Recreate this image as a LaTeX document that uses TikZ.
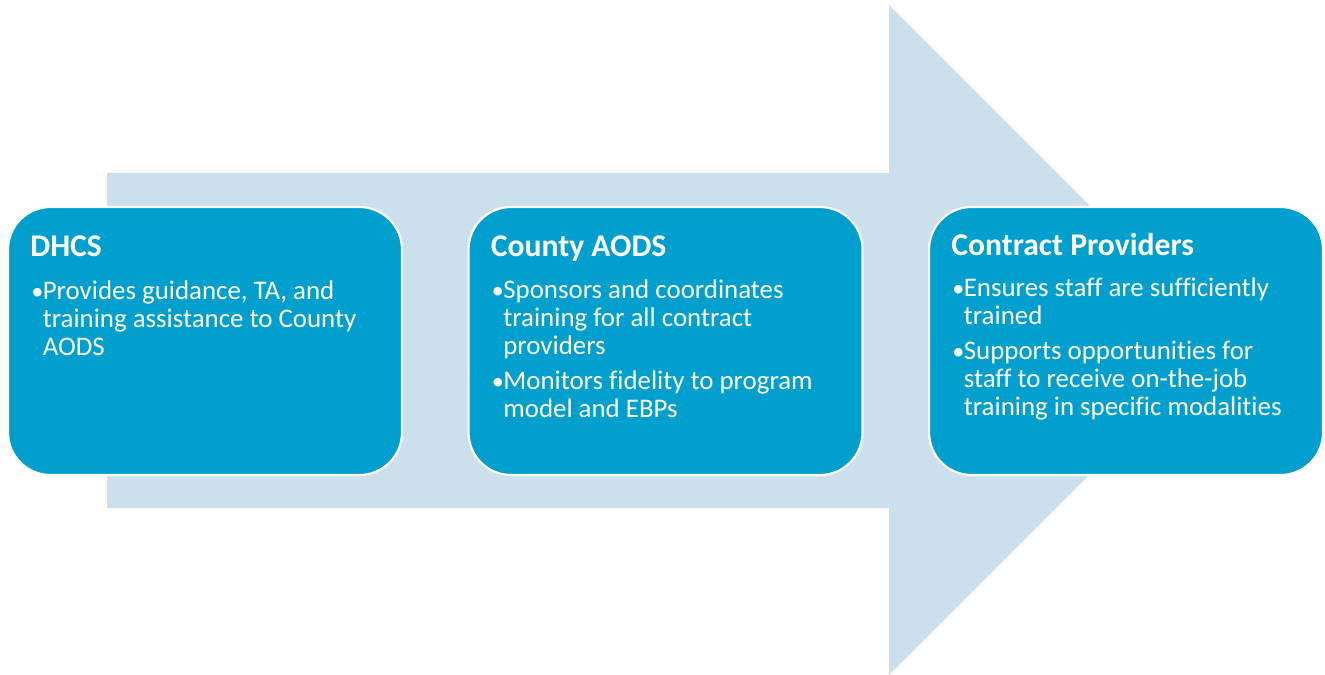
\documentclass[tikz,border=0pt]{standalone}
\usepackage{fontspec}
\usepackage{tikz}
\usetikzlibrary{positioning}

\setmainfont{Carlito}[Ligatures={NoCommon,TeX}]

\definecolor{stageblue}{RGB}{0,159,206}
\definecolor{arrowblue}{RGB}{204,223,236}

\newcommand{\titlefont}{\fontsize{18pt}{18pt}\selectfont\bfseries}
\newcommand{\bodyfont}{\fontsize{15.3pt}{15.9pt}\selectfont}
% one bullet item, lines broken by hand
\newcommand{\bitem}{\makebox[0.21cm][l]{\hspace{-0.02cm}\scalebox{0.9}{\textbullet}}}
\newcommand{\bcont}{\hspace*{0.21cm}}

\tikzset{
  stage/.style={draw=white, line width=1.2pt, fill=stageblue,
    rounded corners=0.85cm, minimum width=7.88cm, minimum height=5.36cm,
    inner sep=0pt},
  stagetitle/.style={anchor=base west, text=white, font=\titlefont, inner sep=0pt},
  stagetext/.style={anchor=base west, text=white, font=\bodyfont, inner sep=0pt,
    align=left},
}

\begin{document}
\begin{tikzpicture}[x=0.02cm, y=-0.02cm]
    \useasboundingbox (0,0) rectangle (1325,675);

    % Big background arrow
    \fill[arrowblue] (107,173) -- (889,173) -- (889,5) -- (1224,340)
        -- (889,675) -- (889,508) -- (107,508) -- cycle;

    % The three stages
    \node[stage] (dhcs) at (205,341) {};
    \node[stage, right=1.29cm of dhcs] (county) {};
    \node[stage, right=1.29cm of county] (providers) {};

    % Titles
    \node[stagetitle] (dhcstitle) at ([shift={(23,51)}]dhcs.north west) {DHCS};
    \node[stagetitle] (countytitle) at ([shift={(23,51)}]county.north west) {County AODS};
    \node[stagetitle] (providerstitle) at ([shift={(23,50)}]providers.north west) {Contract Providers};

    % Bullet points
    \node[stagetext] (dhcsbody) at ([shift={(25,94)}]dhcs.north west) {%
        \begin{tabular}[t]{@{}l@{}}
        \bitem Provides guidance, TA, and\\
        \bcont training assistance to County\\
        \bcont AODS
        \end{tabular}};
    \node[stagetext] (countybody) at ([shift={(25,93)}]county.north west) {%
        \begin{tabular}[t]{@{}l@{}}
        \bitem Sponsors and coordinates\\
        \bcont training for all contract\\
        \bcont providers\\[4pt]
        \bitem Monitors fidelity to program\\
        \bcont model and EBPs
        \end{tabular}};
    \node[stagetext] (providersbody) at ([shift={(25,91)}]providers.north west) {%
        \begin{tabular}[t]{@{}l@{}}
        \bitem Ensures staff are sufficiently\\
        \bcont trained\\[4pt]
        \bitem Supports opportunities for\\
        \bcont staff to receive on-the-job\\
        \bcont training in specific modalities
        \end{tabular}};
\end{tikzpicture}
\end{document}
